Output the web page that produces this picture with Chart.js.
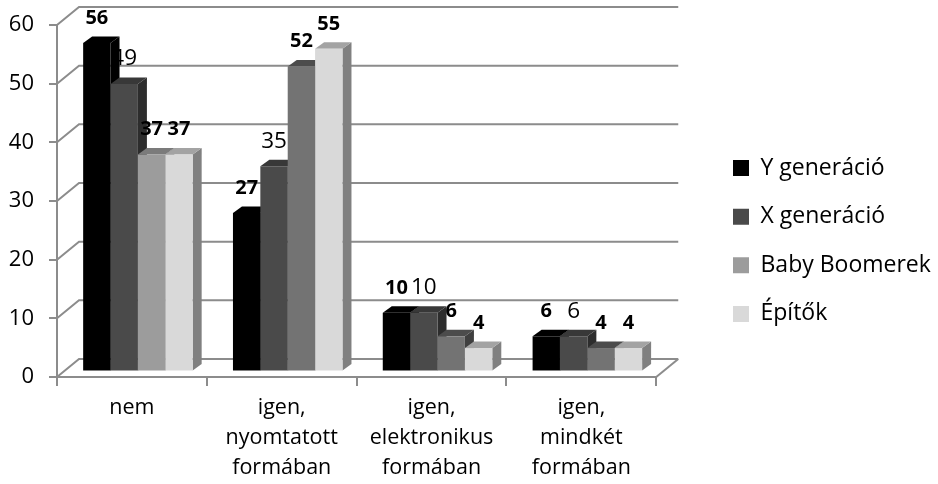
<!DOCTYPE html>
<html><head><meta charset="utf-8">
<style>html,body{margin:0;padding:0;background:#fff}canvas{display:block}</style>
<script src="https://cdn.jsdelivr.net/npm/chart.js@4"></script>
</head><body><canvas id="c" width="938" height="484"></canvas>
<script>
const categories = [["nem"],["igen,","nyomtatott","formában"],["igen,","elektronikus","formában"],["igen,","mindkét","formában"]];
const seriesNames = ["Y generáció","X generáció","Baby Boomerek","Építők"];
const yGen = [56,27,10,6];
const xGen = [49,35,10,6];
const baby = [37,52,6,4];
const epitok = [37,55,4,4];
const yTicks = [0,10,20,30,40,50,60];

const FONT = "'Open Sans', sans-serif";
const front = ["#000000","#4a4a4a","#737373","#d9d9d9"];
const top3d = ["#000000","#383838","#4c4c4c","#a3a3a3"];
const side3d = ["#000000","#2d2d2d","#3f3f3f","#808080"];
const babyFirst = {front:"#9c9c9c", top:"#7b7b7b", side:"#6a6a6a"};
const AXIS = "#8c8c8c";
const WALL = {dx:22, dy:18}, BAR = {dx:9, dy:6.5, sx:6, sy:-5.5};
const LEGEND_PAD = 25.6;

function colour(set, ds, i, alt){ return (ds===2 && i===0) ? alt : set[ds]; }

const threeD = {
  id:"threeD",
  afterLayout(chart){
    const l = chart.legend; const shift = 733 - LEGEND_PAD - l.left;
    l.left += shift; l.right = chart.width; l.top -= 13.5; l.bottom -= 13.5;
  },
  beforeDatasetsDraw(chart){
    const {ctx, scales:{x,y}} = chart;
    const L = x.left, R = x.right;
    ctx.save();
    ctx.strokeStyle = AXIS; ctx.lineWidth = 2;
    yTicks.forEach(v=>{
      const p = y.getPixelForValue(v);
      ctx.beginPath();
      ctx.moveTo(L,p); ctx.lineTo(L+WALL.dx,p-WALL.dy); ctx.lineTo(R+WALL.dx,p-WALL.dy);
      ctx.stroke();
    });
    const b = y.getPixelForValue(0);
    ctx.beginPath(); ctx.moveTo(R,b); ctx.lineTo(R+WALL.dx,b-WALL.dy); ctx.stroke();
    ctx.restore();
    ctx.save();
    ctx.translate(BAR.sx,BAR.sy);
    drawLabels(chart,[1]);
    chart.data.datasets.forEach((d,ds)=>{
      chart.getDatasetMeta(ds).data.forEach((bar,i)=>{
        const l = bar.x-bar.width/2, r = bar.x+bar.width/2, t = bar.y, bs = bar.base;
        ctx.fillStyle = colour(side3d,ds,i,babyFirst.side);
        ctx.beginPath(); ctx.moveTo(r,t); ctx.lineTo(r+BAR.dx,t-BAR.dy); ctx.lineTo(r+BAR.dx,bs-BAR.dy); ctx.lineTo(r,bs); ctx.closePath(); ctx.fill();
        ctx.fillStyle = colour(top3d,ds,i,babyFirst.top);
        ctx.beginPath(); ctx.moveTo(l,t); ctx.lineTo(l+BAR.dx,t-BAR.dy); ctx.lineTo(r+BAR.dx,t-BAR.dy); ctx.lineTo(r,t); ctx.closePath(); ctx.fill();
      });
    });
  },
  afterDatasetsDraw(chart){
    drawLabels(chart,[0,2,3]);
    chart.ctx.restore();
  }
};
function drawLabels(chart, which){
  const ctx = chart.ctx;
  ctx.save();
  ctx.fillStyle = "#000"; ctx.textAlign = "center"; ctx.textBaseline = "middle";
  which.forEach(ds=>{
    ctx.font = (ds===1 ? "22.5px " : "bold 20px ") + FONT;
    chart.getDatasetMeta(ds).data.forEach((bar,i)=>{
      ctx.fillText(String(chart.data.datasets[ds].data[i]), bar.x, bar.y-25);
    });
  });
  ctx.restore();
}

const series = [yGen,xGen,baby,epitok];
new Chart(document.getElementById("c"),{
  type:"bar",
  data:{labels:categories,datasets:series.map((s,ds)=>({
    label:seriesNames[ds], data:s, borderWidth:0, clip:false,
    backgroundColor:c=> c.type==="data" ? colour(front,ds,c.dataIndex,babyFirst.front) : front[ds]
  }))},
  options:{
    responsive:false, animation:false,
    devicePixelRatio:1,
    datasets:{bar:{categoryPercentage:0.731,barPercentage:1}},
    layout:{padding:{left:0,top:25,right:63,bottom:0}},
    plugins:{
      tooltip:{enabled:false},
      legend:{position:"right",align:"center",
        labels:{boxWidth:16,boxHeight:16,padding:LEGEND_PAD,color:"#000",font:{family:FONT,size:23}}}
    },
    scales:{
      x:{
        grid:{drawOnChartArea:false,color:AXIS,lineWidth:2,tickLength:9},
        border:{color:AXIS,width:2},
        ticks:{color:"#000",padding:7,maxRotation:0,autoSkip:false,font:{family:FONT,size:21.5,lineHeight:1.395}},
        afterFit(s){s.height=107;s.paddingLeft=0;s.paddingRight=0;}
      },
      y:{
        min:0,max:60,
        grid:{drawOnChartArea:false,color:AXIS,lineWidth:2,tickLength:8},
        border:{color:AXIS,width:2},
        ticks:{color:"#000",padding:15,stepSize:10,font:{family:FONT,size:22}},
        afterFit(s){s.width=57;s.paddingTop=0;s.paddingBottom=0;}
      }
    }
  },
  plugins:[threeD]
});
</script></body></html>
